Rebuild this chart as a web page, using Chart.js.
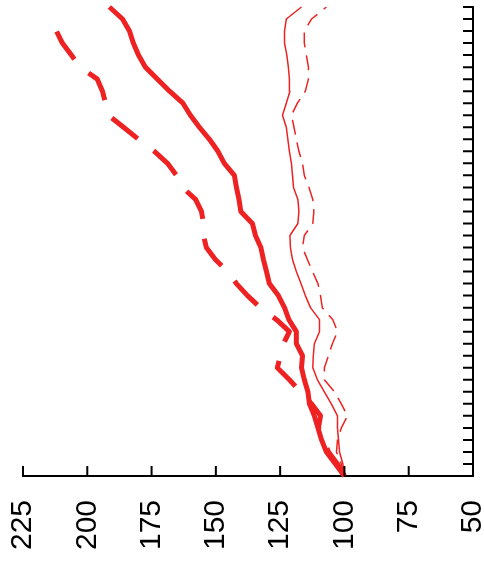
<!DOCTYPE html>
<html>
<head>
<meta charset="utf-8">
<script src="https://cdn.jsdelivr.net/npm/chart.js@4"></script>
<style>
  html, body { margin: 0; padding: 0; background: #fff; }
  #wrap { width: 484px; height: 565px; }
</style>
</head>
<body>
<div id="wrap"><canvas id="chart"></canvas></div>
<script>
const periods = [1, 2, 3, 4, 5, 6, 7, 8, 9, 10, 11, 12, 13, 14, 15, 16, 17, 18, 19, 20,
                 21, 22, 23, 24, 25, 26, 27, 28, 29, 30, 31, 32, 33, 34, 35, 36, 37, 38, 39, 40];

const thickSolid = [100, 103.5, 107, 108.9, 110.3, 111.7, 113.6, 114.2, 115.6, 116.7,
                    116.3, 118.7, 118.7, 121.6, 123.3, 125.7, 129.2, 130.3, 131.5, 132.5,
                    134.6, 135.8, 140.3, 141, 142, 142.8, 146.7, 149.2, 152.5, 156.4,
                    159.9, 162.8, 168, 172.7, 177.4, 180.1, 182.1, 183.6, 186.3, 191.4];

const thickDashed = [100, 102.7, 106.2, 108.2, 110.1, 109.3, 112.8, 117.1, 121.4, 126.1,
                     124.9, 123.7, 121.4, 126.4, 132.7, 137.7, 142, 145.5, 150.2, 153.7,
                     154.8, 154.8, 155.6, 157.9, 163, 165.3, 168.8, 173.9, 180.1, 185.9,
                     191.8, 192.9, 194.1, 196.1, 202.7, 206.2, 209.7, 212, 208.5, null];

const thinSolid = [100, 100.6, 101.9, 102.3, 102.7, 102.7, 105.1, 107.8, 110.5, 112.3,
                   112.1, 111.7, 109.7, 109.7, 113.2, 115.2, 116.9, 118.7, 120.2, 121,
                   121.2, 118.1, 117.7, 118.1, 119.8, 120.2, 120.6, 121.4, 122, 122.6,
                   124.1, 122.6, 121.2, 121.4, 121.8, 122.4, 123.3, 123.3, 122.6, 116.7];

const thinDashed = [100, 101.2, 103.1, 102.7, 101.2, 98.8, 101.2, 103.9, 107.8, 107.8,
                    106.2, 104.7, 102.7, 104.5, 108.6, 109.3, 110.3, 112.4, 114.4, 116.3,
                    115.6, 112.3, 111.9, 112.3, 113.8, 115.6, 116.3, 117.7, 118.7, 119.6,
                    120.6, 118.3, 115.2, 114, 114, 114.8, 115.6, 115.6, 112.8, 107];

const valueTicks = [50, 75, 100, 125, 150, 175, 200, 225];

const red = '#ee2222';

// ticks in the reference point inward, so draw them after the chart
const inwardTicks = {
  id: 'inwardTicks',
  afterDraw(chart) {
    const ctx = chart.ctx;
    const xs = chart.scales.x, ys = chart.scales.y;
    const area = chart.chartArea;
    ctx.save();
    ctx.strokeStyle = '#000';
    ctx.lineWidth = 2;
    ctx.beginPath();
    valueTicks.forEach(v => {
      const px = xs.getPixelForValue(v);
      ctx.moveTo(px, area.bottom);
      ctx.lineTo(px, area.bottom - 10);
    });
    periods.forEach((p, i) => {
      const py = ys.getPixelForValue(i);
      ctx.moveTo(area.right, py);
      ctx.lineTo(area.right - 10, py);
    });
    ctx.stroke();
    ctx.restore();
  }
};

const ctx = document.querySelector('#chart').getContext('2d');
const chart = new Chart(ctx, {
  type: 'line',
  data: {
    labels: periods,
    datasets: [
      { data: thickSolid, borderColor: red, borderWidth: 5 },
      { data: thickDashed, borderColor: red, borderWidth: 5, borderDash: [33, 20] },
      { data: thinSolid, borderColor: red, borderWidth: 1.5 },
      { data: thinDashed, borderColor: red, borderWidth: 1.5, borderDash: [15, 8] }
    ]
  },
  options: {
    indexAxis: 'y',
    responsive: true,
    maintainAspectRatio: false,
    animation: false,
    layout: { padding: { left: 23, right: 11, top: 7, bottom: 13 } },
    elements: {
      point: { radius: 0 },
      line: { tension: 0, fill: false, borderCapStyle: 'butt', borderJoinStyle: 'round' }
    },
    plugins: { legend: { display: false }, tooltip: { enabled: false } },
    scales: {
      x: {
        type: 'linear',
        position: 'bottom',
        reverse: true,
        min: 50,
        max: 225,
        afterBuildTicks: s => { s.ticks = valueTicks.map(v => ({ value: v })); },
        afterFit: s => { s.height = 76; },
        ticks: {
          color: '#000',
          font: { family: 'Liberation Sans', size: 30 },
          minRotation: 90,
          maxRotation: 90,
          padding: 24
        },
        grid: { drawOnChartArea: false, drawTicks: false },
        border: { display: true, color: '#000', width: 2 }
      },
      y: {
        type: 'category',
        position: 'right',
        reverse: true,
        offset: false,
        afterFit: s => { s.width = 0; },
        ticks: { display: false },
        grid: { drawOnChartArea: false, drawTicks: false },
        border: { display: true, color: '#000', width: 2 }
      }
    }
  },
  plugins: [inwardTicks]
});
</script>
</body>
</html>
